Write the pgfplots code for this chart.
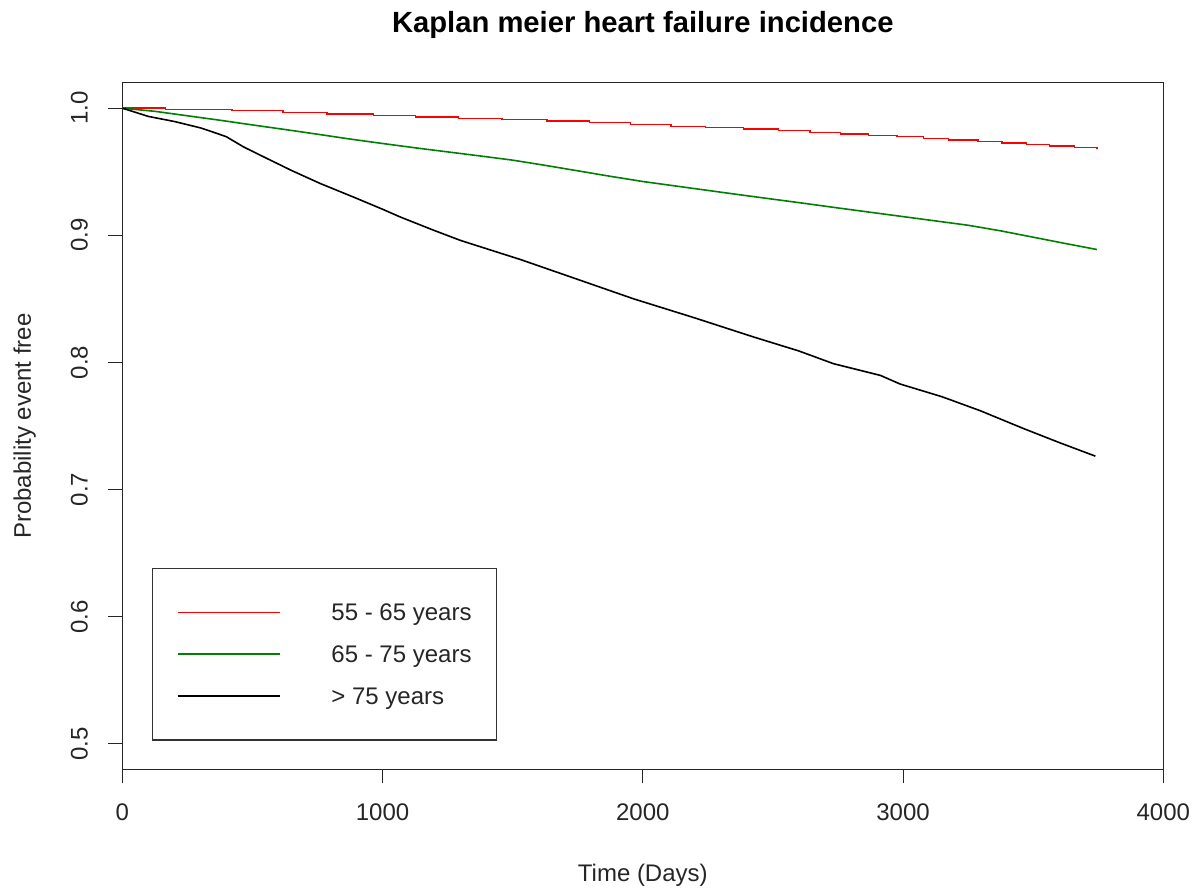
\documentclass[border=0pt]{standalone}
\usepackage{fontspec}
\setmainfont{Liberation Sans}
\usepackage{pgfplots}
\pgfplotsset{compat=1.18}
\definecolor{kmred}{RGB}{255,0,0}
\definecolor{kmgreen}{RGB}{0,128,0}
\begin{document}
\begin{tikzpicture}
\useasboundingbox (-61.15pt,-60.85pt) rectangle (540.35pt,384.65pt);
\begin{axis}[
  at={(0,0)}, anchor=south west,
  scale only axis, width=520.5pt, height=343.3pt,
  xmin=0, xmax=4000, ymin=0.48, ymax=1.02,
  xtick={0,1000,2000,3000,4000}, xticklabels={0,1000,2000,3000,4000},
  ytick={0.5,0.6,0.7,0.8,0.9,1.0}, yticklabels={0.5,0.6,0.7,0.8,0.9,1.0},
  tick align=outside, major tick length=7pt,
  xtick pos=left, ytick pos=left,
  axis line style={black!85, line width=0.55pt},
  tick style={black!85, line width=0.55pt},
  tick label style={font=\fontsize{12}{14}\selectfont, text=black!85, inner sep=0pt},
  xticklabel style={anchor=north},
  yticklabel style={rotate=90, anchor=south},
  xticklabel shift=10pt, yticklabel shift=10pt,
  title={Kaplan meier heart failure incidence},
  title style={font=\fontsize{14.6}{17}\selectfont\bfseries, at={(axis description cs:0.5,1.0559)}, anchor=base, inner sep=0pt},
  xlabel={Time (Days)},
  xlabel style={font=\fontsize{12}{14}\selectfont, text=black!85, at={(axis description cs:0.5,-0.1641)}, anchor=base, inner sep=0pt},
  ylabel={Probability event free},
  ylabel style={font=\fontsize{12}{14}\selectfont, text=black!85, at={(axis description cs:-0.0877,0.5)}, anchor=base, rotate=0, inner sep=0pt},
  legend cell align=left,
  legend image code/.code={\draw[#1, line width=0.8pt] (0pt,0pt) -- (51pt,0pt);},
  legend style={at={(rel axis cs:0.0288,0.0427)}, anchor=south west, outer sep=0pt,
    inner xsep=12.3pt, inner ysep=15pt, row sep=6.9pt, column sep=25.5pt,
    nodes={inner sep=0pt, text height=11.3pt, text depth=2.7pt, font=\fontsize{12}{14}\selectfont, text=black!85},
    draw=black!80, line width=0.55pt},
]
\addplot[kmred, line width=0.7pt, const plot] coordinates {
(0,1.0000) (165,0.9990) (421,0.9980) (617,0.9968) (786,0.9955) (966,0.9940)
(1126,0.9930) (1292,0.9920) (1459,0.9910) (1632,0.9898) (1796,0.9885)
(1952,0.9872) (2108,0.9858) (2240,0.9847) (2387,0.9835) (2522,0.9822)
(2643,0.9810) (2759,0.9798) (2868,0.9786) (2977,0.9775) (3079,0.9762)
(3175,0.9750) (3288,0.9737) (3380,0.9725) (3474,0.9713) (3563,0.9702)
(3659,0.9690) (3745,0.9688)
};
\addlegendentry{55 - 65 years}
\addplot[kmgreen, line width=0.8pt] coordinates {
(0,1.0000) (125,0.9975) (250,0.9940) (375,0.9905) (500,0.9868) (625,0.9832)
(750,0.9795) (875,0.9757) (1000,0.9722) (1125,0.9688) (1250,0.9656)
(1375,0.9624) (1500,0.9591) (1625,0.9550) (1750,0.9507) (1875,0.9464)
(2000,0.9423) (2125,0.9388) (2250,0.9353) (2375,0.9318) (2500,0.9284)
(2625,0.9250) (2750,0.9215) (2875,0.9181) (3000,0.9147) (3125,0.9113)
(3250,0.9079) (3375,0.9035) (3500,0.8985) (3625,0.8935) (3745,0.8888)
};
\addlegendentry{65 - 75 years}
\addplot[black, line width=0.8pt] coordinates {
(0,1.0000) (100,0.9935) (200,0.9895) (300,0.9845) (357,0.9806) (400,0.9775)
(466,0.9695) (556,0.9604) (650,0.9510) (761,0.9407) (889,0.9300)
(1000,0.9205) (1068,0.9144) (1196,0.9040) (1299,0.8960) (1452,0.8860)
(1529,0.8810) (1750,0.8653) (1965,0.8500) (2200,0.8350) (2426,0.8200)
(2600,0.8090) (2733,0.7990) (2913,0.7898) (2989,0.7830) (3150,0.7730)
(3297,0.7620) (3463,0.7480) (3600,0.7370) (3739,0.7263)
};
\addlegendentry{> 75 years}
\end{axis}
\end{tikzpicture}
\end{document}
